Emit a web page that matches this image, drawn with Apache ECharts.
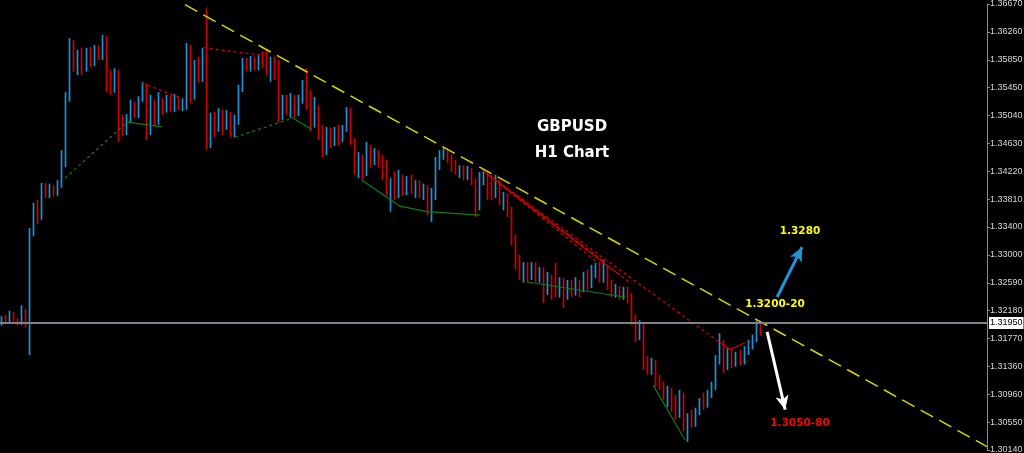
<!DOCTYPE html>
<html><head><meta charset="utf-8">
<script src="https://cdn.jsdelivr.net/npm/echarts@6/dist/echarts.min.js"></script>
<style>html,body{margin:0;padding:0;background:#000;}#c{width:1024px;height:453px;}</style>
</head><body><div id="c"></div>
<script>
// ---- data ----
const tickLabels = ['1.30140','1.30550','1.30960','1.31360','1.31770','1.32180','1.32590','1.33000','1.33400','1.33810','1.34220','1.34630','1.35040','1.35450','1.35850','1.36260','1.36670'];
const priceMin = 1.3014, priceMax = 1.3667;
const totalSlots = 246;
const opens = [1.3202,1.3207,1.3202,1.3213,1.3204,1.3200,1.3219,1.3202,1.3333,1.3373,1.3354,1.3398,1.3387,1.3399,1.3390,1.3402,1.3439,1.3534,1.3607,1.3573,1.3592,1.3570,1.3597,1.3582,1.3600,1.3592,1.3617,1.3556,1.3544,1.3563,1.3483,1.3480,1.3500,1.3515,1.3506,1.3527,1.3549,1.3483,1.3515,1.3497,1.3522,1.3512,1.3527,1.3515,1.3527,1.3516,1.3524,1.3603,1.3534,1.3578,1.3559,1.3600,1.3486,1.3500,1.3486,1.3505,1.3490,1.3500,1.3483,1.3497,1.3544,1.3582,1.3573,1.3585,1.3578,1.3588,1.3582,1.3568,1.3585,1.3563,1.3500,1.3527,1.3515,1.3529,1.3509,1.3527,1.3549,1.3519,1.3490,1.3515,1.3475,1.3453,1.3480,1.3465,1.3483,1.3468,1.3486,1.3509,1.3468,1.3431,1.3442,1.3421,1.3453,1.3442,1.3450,1.3436,1.3424,1.3395,1.3407,1.3392,1.3412,1.3395,1.3409,1.3398,1.3407,1.3392,1.3398,1.3373,1.3387,1.3431,1.3446,1.3453,1.3439,1.3431,1.3424,1.3427,1.3417,1.3424,1.3409,1.3373,1.3412,1.3417,1.3402,1.3395,1.3407,1.3383,1.3387,1.3365,1.3322,1.3289,1.3275,1.3281,1.3269,1.3285,1.3270,1.3278,1.3248,1.3263,1.3251,1.3245,1.3260,1.3241,1.3256,1.3245,1.3259,1.3248,1.3266,1.3259,1.3278,1.3281,1.3266,1.3281,1.3256,1.3245,1.3251,1.3243,1.3248,1.3240,1.3204,1.3178,1.3197,1.3146,1.3134,1.3143,1.3117,1.3111,1.3095,1.3102,1.3080,1.3073,1.3095,1.3051,1.3061,1.3055,1.3070,1.3084,1.3080,1.3095,1.3108,1.3146,1.3168,1.3139,1.3158,1.3143,1.3153,1.3143,1.3161,1.3168,1.3178,1.3197];
const closes = [1.3207,1.3202,1.3213,1.3204,1.3200,1.3219,1.3202,1.3333,1.3373,1.3354,1.3398,1.3387,1.3399,1.3390,1.3402,1.3439,1.3534,1.3607,1.3573,1.3592,1.3570,1.3597,1.3582,1.3600,1.3592,1.3617,1.3556,1.3544,1.3563,1.3483,1.3480,1.3500,1.3515,1.3506,1.3527,1.3549,1.3483,1.3515,1.3497,1.3522,1.3512,1.3527,1.3515,1.3527,1.3516,1.3524,1.3603,1.3534,1.3578,1.3559,1.3600,1.3486,1.3500,1.3486,1.3505,1.3490,1.3500,1.3483,1.3497,1.3544,1.3582,1.3573,1.3585,1.3578,1.3588,1.3582,1.3568,1.3585,1.3563,1.3500,1.3527,1.3515,1.3529,1.3509,1.3527,1.3549,1.3519,1.3490,1.3515,1.3475,1.3453,1.3480,1.3465,1.3483,1.3468,1.3486,1.3509,1.3468,1.3431,1.3442,1.3421,1.3453,1.3442,1.3450,1.3436,1.3424,1.3395,1.3407,1.3392,1.3412,1.3395,1.3409,1.3398,1.3407,1.3392,1.3398,1.3373,1.3387,1.3431,1.3446,1.3453,1.3439,1.3431,1.3424,1.3427,1.3417,1.3424,1.3409,1.3373,1.3412,1.3417,1.3402,1.3395,1.3407,1.3383,1.3387,1.3365,1.3322,1.3289,1.3275,1.3281,1.3269,1.3285,1.3270,1.3278,1.3248,1.3263,1.3251,1.3245,1.3260,1.3241,1.3256,1.3245,1.3259,1.3248,1.3266,1.3259,1.3278,1.3281,1.3266,1.3281,1.3256,1.3245,1.3251,1.3243,1.3248,1.3240,1.3204,1.3178,1.3197,1.3146,1.3134,1.3143,1.3117,1.3111,1.3095,1.3102,1.3080,1.3073,1.3095,1.3051,1.3061,1.3055,1.3070,1.3084,1.3080,1.3095,1.3108,1.3146,1.3168,1.3139,1.3158,1.3143,1.3153,1.3143,1.3161,1.3168,1.3178,1.3197,1.3187];
const lows = [1.3196,1.3199,1.3199,1.3202,1.3197,1.3197,1.3193,1.3153,1.3327,1.3345,1.3351,1.3383,1.3383,1.3385,1.3386,1.3398,1.3428,1.3524,1.3568,1.3563,1.3563,1.3568,1.3575,1.3576,1.3585,1.3585,1.3538,1.3534,1.3537,1.3465,1.3474,1.3475,1.3494,1.3500,1.3500,1.3524,1.3468,1.3475,1.3488,1.3490,1.3505,1.3508,1.3509,1.3509,1.3512,1.3510,1.3512,1.3522,1.3527,1.3552,1.3553,1.3453,1.3456,1.3472,1.3480,1.3475,1.3483,1.3472,1.3472,1.3490,1.3538,1.3568,1.3568,1.3570,1.3570,1.3573,1.3562,1.3553,1.3556,1.3494,1.3497,1.3505,1.3500,1.3500,1.3503,1.3521,1.3512,1.3480,1.3486,1.3468,1.3443,1.3446,1.3456,1.3459,1.3459,1.3465,1.3480,1.3461,1.3417,1.3412,1.3409,1.3415,1.3427,1.3431,1.3428,1.3409,1.3387,1.3363,1.3380,1.3383,1.3386,1.3387,1.3389,1.3383,1.3383,1.3380,1.3358,1.3348,1.3380,1.3424,1.3439,1.3434,1.3421,1.3417,1.3412,1.3409,1.3409,1.3402,1.3355,1.3365,1.3402,1.3380,1.3380,1.3383,1.3373,1.3365,1.3355,1.3314,1.3278,1.3263,1.3259,1.3259,1.3263,1.3260,1.3259,1.3229,1.3241,1.3234,1.3237,1.3237,1.3222,1.3234,1.3238,1.3240,1.3238,1.3245,1.3248,1.3251,1.3266,1.3259,1.3259,1.3248,1.3238,1.3237,1.3234,1.3234,1.3229,1.3197,1.3172,1.3175,1.3131,1.3124,1.3124,1.3106,1.3102,1.3087,1.3077,1.3070,1.3058,1.3061,1.3041,1.3026,1.3046,1.3048,1.3065,1.3073,1.3076,1.3090,1.3102,1.3139,1.3127,1.3131,1.3134,1.3136,1.3137,1.3139,1.3153,1.3161,1.3172,1.3181];
const highs = [1.3210,1.3212,1.3218,1.3216,1.3207,1.3226,1.3221,1.3339,1.3376,1.3380,1.3405,1.3405,1.3404,1.3402,1.3409,1.3453,1.3538,1.3617,1.3614,1.3600,1.3603,1.3603,1.3604,1.3607,1.3607,1.3622,1.3620,1.3570,1.3573,1.3570,1.3505,1.3506,1.3527,1.3524,1.3532,1.3553,1.3550,1.3534,1.3527,1.3538,1.3529,1.3534,1.3532,1.3535,1.3531,1.3529,1.3610,1.3607,1.3585,1.3590,1.3603,1.3661,1.3508,1.3509,1.3515,1.3512,1.3512,1.3509,1.3505,1.3549,1.3588,1.3588,1.3591,1.3590,1.3592,1.3597,1.3600,1.3590,1.3590,1.3585,1.3534,1.3534,1.3537,1.3534,1.3534,1.3556,1.3573,1.3541,1.3531,1.3519,1.3490,1.3487,1.3486,1.3487,1.3490,1.3490,1.3516,1.3515,1.3471,1.3450,1.3447,1.3465,1.3461,1.3456,1.3453,1.3446,1.3439,1.3412,1.3421,1.3424,1.3417,1.3415,1.3417,1.3409,1.3409,1.3404,1.3402,1.3398,1.3443,1.3453,1.3456,1.3455,1.3446,1.3439,1.3431,1.3431,1.3430,1.3427,1.3412,1.3421,1.3424,1.3421,1.3417,1.3417,1.3409,1.3392,1.3390,1.3370,1.3329,1.3300,1.3289,1.3289,1.3289,1.3289,1.3282,1.3281,1.3275,1.3270,1.3288,1.3267,1.3266,1.3263,1.3263,1.3267,1.3263,1.3275,1.3278,1.3285,1.3288,1.3289,1.3292,1.3284,1.3263,1.3257,1.3254,1.3253,1.3253,1.3244,1.3212,1.3204,1.3202,1.3152,1.3149,1.3146,1.3124,1.3114,1.3108,1.3105,1.3095,1.3102,1.3098,1.3068,1.3073,1.3076,1.3090,1.3098,1.3102,1.3114,1.3153,1.3185,1.3175,1.3163,1.3161,1.3158,1.3161,1.3166,1.3175,1.3183,1.3204,1.3203];
const currentPrice = 1.3195;
// overlay lines: [bar position, price]
const trendLine = [[45.6, 1.3666], [245.5, 1.3019]];
const redDottedLines = [
  [[34.9, 1.3551], [44.4, 1.3530]],
  [[50.3, 1.3603], [64.8, 1.3592]],
  [[119.9, 1.3423], [179.0, 1.3171]],
  [[119.9, 1.3423], [156.5, 1.3259]],
  [[121.6, 1.3415], [150.3, 1.3289]],
  [[122.9, 1.3409], [148.3, 1.3289]],
  [[124.1, 1.3404], [154.0, 1.3270]]
];
const redSolidLines = [[[179.0, 1.3171], [181.5, 1.3161], [185.2, 1.3171]]];
const greenDottedLines = [
  [[15.7, 1.3412], [31.2, 1.3494]],
  [[58.1, 1.3472], [72.5, 1.3500]]
];
const greenSolidLines = [
  [[31.2, 1.3494], [39.9, 1.3487]],
  [[72.5, 1.3500], [77.3, 1.3483]],
  [[89.7, 1.3409], [99.2, 1.3371], [105.9, 1.3363], [119.1, 1.3358]],
  [[130.9, 1.3260], [155.3, 1.3238]],
  [[162.3, 1.3109], [170.2, 1.3029]]
];
const upArrow = [[193.2, 1.3238], [199.4, 1.3311]];
const downArrow = [[190.7, 1.3187], [195.2, 1.3073]];

// ---- chart ----
const UP = '#1a92d6', DOWN = '#d00000';
const categories = Array.from({length: totalSlots}, (_, i) => String(i));
const candleData = opens.map((o, i) => {
  const c = closes[i] >= o ? UP : DOWN;
  return {
    value: [o, closes[i], lows[i], highs[i]],
    itemStyle: {color: c, color0: c, borderColor: c, borderColor0: c, borderColorDoji: c}
  };
});

function lineSeries(pts, color, type, width) {
  return {
    type: 'line', xAxisIndex: 1, yAxisIndex: 0, data: pts, symbol: 'none',
    silent: true, z: 3,
    lineStyle: {color: color, type: type, width: width}
  };
}
const overlays = [];
redDottedLines.forEach(p => overlays.push(lineSeries(p, '#d40000', [3, 3], 1.3)));
redSolidLines.forEach(p => overlays.push(lineSeries(p, '#d40000', 'solid', 1.2)));
greenDottedLines.forEach(p => overlays.push(lineSeries(p, '#0b7f0b', [3, 3], 1.3)));
greenSolidLines.forEach(p => overlays.push(lineSeries(p, '#0b7f0b', 'solid', 1.2)));

const trend = lineSeries(trendLine, '#d6d600', [14, 7], 1.5);
trend.markLine = {
  silent: true, symbol: ['none', 'arrow'], symbolSize: [10, 14], label: {show: false},
  data: [
    [{coord: upArrow[0], lineStyle: {color: '#1e96d8', width: 3, type: 'solid'}, itemStyle: {color: '#1e96d8'}},
     {coord: upArrow[1]}],
    [{coord: downArrow[0], lineStyle: {color: '#ffffff', width: 3, type: 'solid'}, itemStyle: {color: '#ffffff'}},
     {coord: downArrow[1]}]
  ]
};

const chart = echarts.init(document.getElementById('c'), null, {renderer: 'canvas'});
chart.setOption({
  animation: false,
  backgroundColor: '#000000',
  grid: {left: 0, right: 37, top: 4, bottom: 3, containLabel: false, outerBoundsMode: 'none'},
  xAxis: [
    {type: 'category', data: categories, boundaryGap: true, show: false},
    {type: 'value', min: -0.5, max: totalSlots - 0.5, show: false}
  ],
  yAxis: [
    {type: 'value', min: priceMin, max: priceMax, show: false, splitLine: {show: false}},
    {type: 'category', data: tickLabels, boundaryGap: false, position: 'right',
     axisLine: {show: true, lineStyle: {color: '#8a8a8a', width: 1}},
     axisTick: {show: true, length: 3, lineStyle: {color: '#8a8a8a'}},
     splitLine: {show: false},
     axisLabel: {show: true, color: '#d8d8d8', fontSize: 9, fontFamily: 'Liberation Sans', margin: 3, interval: 0}}
  ],
  series: [
    {
      type: 'candlestick', xAxisIndex: 0, yAxisIndex: 0, data: candleData,
      barWidth: 0.4, silent: true, z: 2,
      itemStyle: {color: UP, color0: DOWN, borderColor: UP, borderColor0: DOWN, borderColorDoji: UP, borderWidth: 1.7},
      markLine: {
        silent: true, symbol: ['none', 'none'],
        lineStyle: {color: '#7d838a', width: 1.8, type: 'solid'},
        label: {show: true, position: 'end', distance: 2, formatter: currentPrice.toFixed(5),
                backgroundColor: '#ffffff', color: '#000000', fontSize: 9, fontFamily: 'Liberation Sans',
                padding: [2, 1, 1, 1]},
        data: [{yAxis: currentPrice}]
      }
    },
    trend
  ].concat(overlays),
  graphic: [
    {type: 'text', x: 572, y: 127, style: {text: 'GBPUSD', fill: '#ffffff', font: 'bold 15px "DejaVu Sans"', textAlign: 'center', textVerticalAlign: 'middle'}},
    {type: 'text', x: 572, y: 153, style: {text: 'H1 Chart', fill: '#ffffff', font: 'bold 15px "DejaVu Sans"', textAlign: 'center', textVerticalAlign: 'middle'}},
    {type: 'text', x: 800, y: 231, style: {text: '1.3280', fill: '#ffff00', font: 'bold 10.5px "DejaVu Sans"', textAlign: 'center', textVerticalAlign: 'middle'}},
    {type: 'text', x: 775, y: 304, style: {text: '1.3200-20', fill: '#ffff00', font: 'bold 10.5px "DejaVu Sans"', textAlign: 'center', textVerticalAlign: 'middle'}},
    {type: 'text', x: 800, y: 423, style: {text: '1.3050-80', fill: '#ff0000', font: 'bold 10.5px "DejaVu Sans"', textAlign: 'center', textVerticalAlign: 'middle'}}
  ]
});
</script>
</body></html>
